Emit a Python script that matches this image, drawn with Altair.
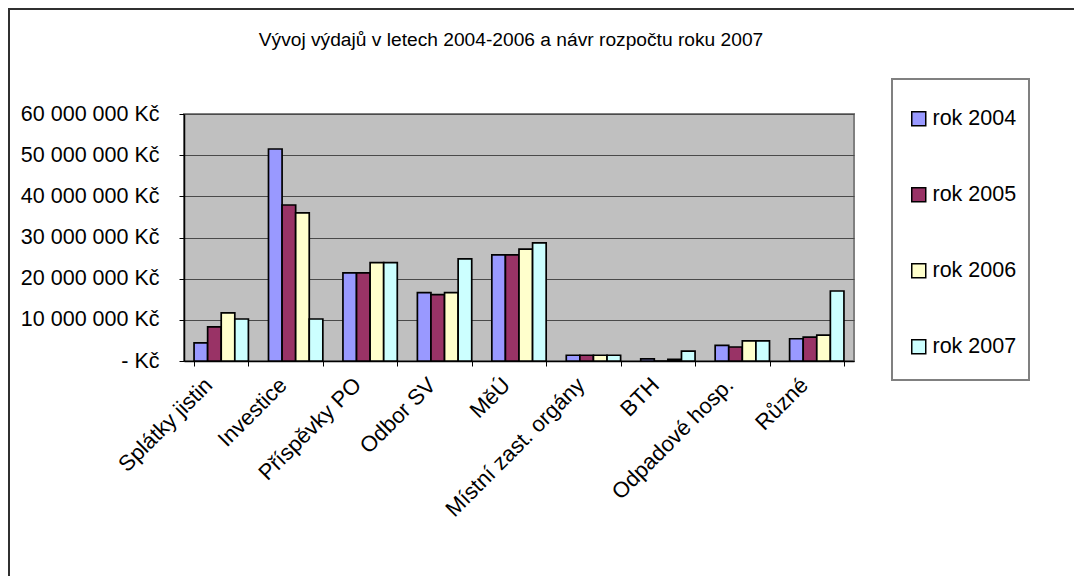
import altair as alt
import pandas as pd

categories = ["Splátky jistin", "Investice", "Příspěvky PO", "Odbor SV", "MěÚ",
              "Místní zast. orgány", "BTH", "Odpadové hosp.", "Různé"]
series = ["rok 2004", "rok 2005", "rok 2006", "rok 2007"]
rok_2004 = [4.4e6, 51.5e6, 21.4e6, 16.6e6, 25.8e6, 1.4e6, 0.5e6, 3.8e6, 5.4e6]
rok_2005 = [8.3e6, 37.9e6, 21.4e6, 16.1e6, 25.8e6, 1.4e6, 0.0, 3.4e6, 5.8e6]
rok_2006 = [11.7e6, 36.0e6, 23.9e6, 16.6e6, 27.2e6, 1.4e6, 0.4e6, 4.9e6, 6.3e6]
rok_2007 = [10.2e6, 10.2e6, 23.9e6, 24.8e6, 28.7e6, 1.4e6, 2.4e6, 4.9e6, 17.0e6]
colors = ["#9999FF", "#993366", "#FFFFCC", "#CCFFFF"]
y_ticks = [0, 10e6, 20e6, 30e6, 40e6, 50e6, 60e6]
title_text = "Vývoj výdajů v letech 2004-2006 a návr rozpočtu roku 2007"

rows = []
for s, vals in zip(series, [rok_2004, rok_2005, rok_2006, rok_2007]):
    for c, v in zip(categories, vals):
        rows.append({"kategorie": c, "rok": s, "hodnota": v})
df = pd.DataFrame(rows)

FONT = "Liberation Sans"

bars = alt.Chart(df).mark_bar(stroke="black", strokeWidth=1.7).encode(
    x=alt.X("kategorie:N", sort=categories, title=None,
            scale=alt.Scale(paddingInner=0.27, paddingOuter=0.135),
            axis=alt.Axis(labelAngle=-45, tickBand="extent", labelFontSize=22,
                          labelFont=FONT, labelColor="black", tickSize=5,
                          tickColor="black", domainColor="black", domainWidth=1.5,
                          labelPadding=8, labelOffset=-20, grid=False, labelLimit=400)),
    xOffset=alt.XOffset("rok:N", sort=series, scale=alt.Scale(paddingInner=0, paddingOuter=0)),
    y=alt.Y("hodnota:Q", title=None,
            scale=alt.Scale(domain=[0, 60e6], nice=False),
            axis=alt.Axis(values=y_ticks,
                          labelExpr="datum.value == 0 ? '- Kč' : format(datum.value/1000000, 'd') + ' 000 000 Kč'",
                          labelFontSize=21.5, labelFont=FONT, labelColor="black",
                          tickSize=5, tickColor="black", domainColor="black", domainWidth=1.5,
                          labelPadding=20, grid=True, gridColor="#4a4a4a", gridWidth=1)),
    color=alt.Color("rok:N", sort=series, title=None,
                    scale=alt.Scale(domain=series, range=colors),
                    legend=alt.Legend(orient="none", legendX=724, legendY=-6,
                                      symbolType="square", symbolSize=196,
                                      symbolStrokeColor="black", symbolStrokeWidth=1.5,
                                      labelFontSize=21.5, labelFont=FONT, labelColor="black",
                                      labelOffset=3, rowPadding=53, padding=0)),
)

frame_data = pd.DataFrame({"a": [0]})
legend_box = alt.Chart(frame_data).mark_rect(fill="white", stroke="#808080", strokeWidth=2).encode(
    x=alt.value(708), x2=alt.value(845), y=alt.value(-35), y2=alt.value(266))
left_line = alt.Chart(frame_data).mark_rule(color="#303030", strokeWidth=2).encode(
    x=alt.value(-175), y=alt.value(-106), y2=alt.value(480))
top_line = alt.Chart(frame_data).mark_rule(color="#303030", strokeWidth=2).encode(
    x=alt.value(-176), x2=alt.value(900), y=alt.value(-105))
title = alt.Chart(pd.DataFrame({"t": [title_text]})).mark_text(
    font=FONT, fontSize=19.2, color="black", align="center", baseline="middle").encode(
    text="t:N", x=alt.value(327), y=alt.value(-74))

chart = alt.layer(legend_box, left_line, top_line, title, bars).properties(
    width=670, height=247,
    autosize=alt.AutoSizeParams(type="none"),
    padding={"left": 176, "top": 106, "right": 220, "bottom": 215},
).configure(background="white").configure_view(
    fill="#C0C0C0", stroke="#808080", strokeWidth=2)

chart.save("out.html", embed_options={"renderer": "svg", "actions": False})
